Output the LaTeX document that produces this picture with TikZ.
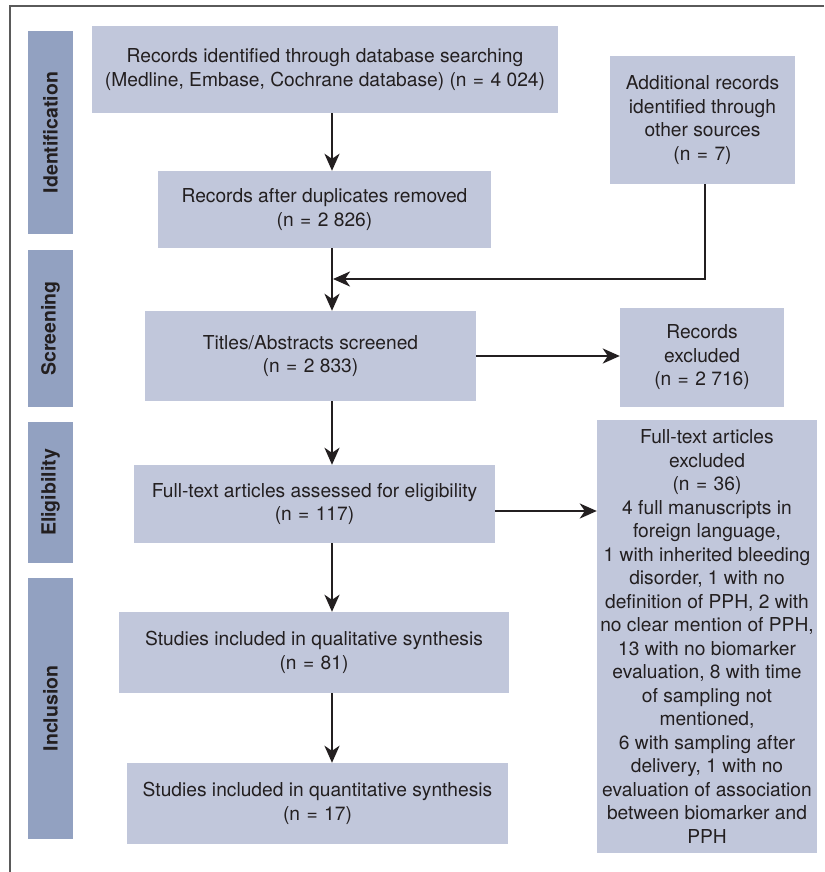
\documentclass[tikz,border=0pt]{standalone}
\usepackage{fontspec}
\setmainfont{TeX Gyre Heros}
\usetikzlibrary{arrows.meta}
\definecolor{boxc}{HTML}{C1C7DB}
\definecolor{sidec}{HTML}{92A1C1}
\definecolor{txt}{HTML}{231F20}
\definecolor{framec}{HTML}{5A5A5A}
\newcommand{\eqn}{\,\,=\,\,}
\begin{document}
\begin{tikzpicture}[x=1pt,y=-1pt,
  box/.style={fill=boxc, inner sep=0pt, align=center, text=txt, font=\fontsize{19.2}{23.5}\selectfont},
  side/.style={fill=sidec, inner sep=0pt, text=txt, font=\fontsize{19.5}{23}\selectfont\bfseries, rotate=90},
  arr/.style={line width=2.3pt, draw=txt, -{Stealth[length=17pt,width=15pt,inset=5pt]}},
  frame/.style={draw=framec, line width=1.3pt}
  ]
\useasboundingbox (0,0) rectangle (824,872);
\draw[frame] (824,6) -- (10,6) -- (10,872);
% sidebars
\node[side, minimum width=203pt, minimum height=45pt] (sid) at (50.5,132.5) {Identification};
\node[side, minimum width=157pt, minimum height=45pt] (sscr) at (50.5,328.5) {Screening};
\node[side, minimum width=141pt, minimum height=45pt] (selig) at (50.5,492.5) {Eligibility};
\node[side, minimum width=261pt, minimum height=45pt] (sinc) at (50.5,708.5) {Inclusion};
% boxes
\node[box, minimum width=466pt, minimum height=87pt] (db) at (325,69.5) {Records identified through database searching\\(Medline, Embase, Cochrane database) (n\eqn4 024)};
\node[box, minimum width=333pt, minimum height=77pt] (dup) at (324.5,209.5) {Records after duplicates removed\\(n\eqn2 826)};
\node[box, minimum width=185pt, minimum height=128pt] (add) at (702.5,120) {Additional records\\identified through\\other sources\\(n\eqn7)};
\node[box, minimum width=331pt, minimum height=90pt] (titles) at (310.5,356) {Titles/Abstracts screened\\(n\eqn2 833)};
\node[box, minimum width=164pt, minimum height=99pt] (recexcl) at (702,357.5) {Records\\excluded\\(n\eqn2 716)};
\node[box, minimum width=361pt, minimum height=78pt] (full) at (314.5,504) {Full-text articles assessed for eligibility\\(n\eqn117)};
\node[box, minimum width=220pt, minimum height=433pt] (ftexcl) at (707,636.5) {Full-text articles\\excluded\\(n\eqn36)\\4 full manuscripts in\\foreign language,\\1 with inherited bleeding\\disorder, 1 with no\\definition of PPH, 2 with\\no clear mention of PPH,\\13 with no biomarker\\evaluation, 8 with time\\of sampling not\\mentioned,\\6 with sampling after\\delivery, 1 with no\\evaluation of association\\between biomarker and\\PPH};
\node[box, minimum width=390pt, minimum height=81pt] (qual) at (314,652.5) {Studies included in qualitative synthesis\\(n\eqn81)};
\node[box, minimum width=381pt, minimum height=81pt] (quant) at (317.5,803.5) {Studies included in quantitative synthesis\\(n\eqn17)};
% connectors
\coordinate (sp) at (332,0);
\coordinate (addx) at (705,0);
\coordinate (mg) at (333,279);
\coordinate (ay) at (0,511);
\draw[arr] (db.south -| sp) -- (dup.north -| sp);
\draw[arr] (dup.south -| sp) -- (titles.north -| sp);
\draw[arr] (add.south -| addx) |- (mg);
\draw[arr] (titles.east) -- (titles.east -| recexcl.west);
\draw[arr] (full.east |- ay) -- (ftexcl.west |- ay);
\draw[arr] (titles.south -| sp) -- (full.north -| sp);
\draw[arr] (full.south -| sp) -- (qual.north -| sp);
\draw[arr] (qual.south -| sp) -- (quant.north -| sp);
\end{tikzpicture}
\end{document}
